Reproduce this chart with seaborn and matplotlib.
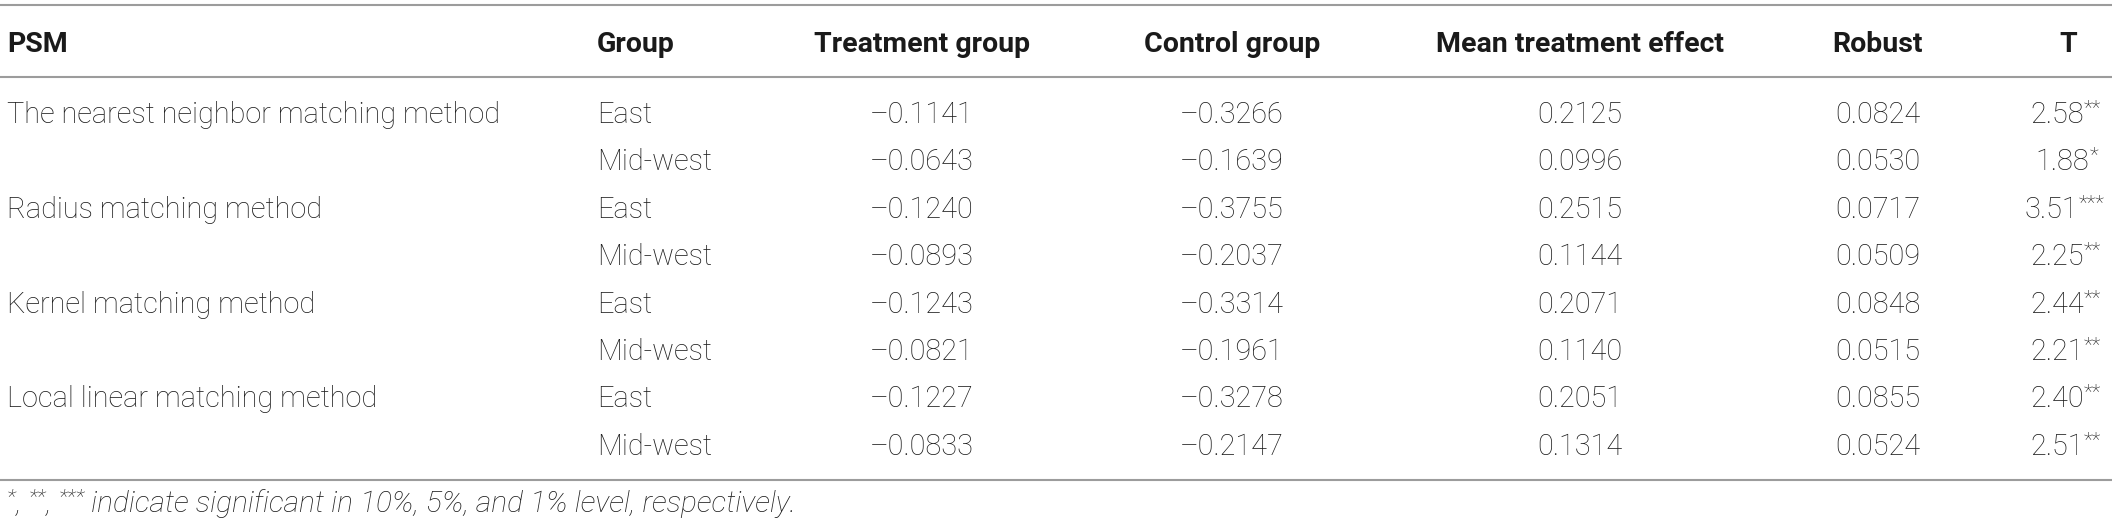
import pandas as pd
import seaborn as sns
import matplotlib.pyplot as plt

# table values
methods = ["The nearest neighbor matching method", "Radius matching method",
           "Kernel matching method", "Local linear matching method"]
groups = ["East", "Mid-west"]
treatment = [-0.1141, -0.0643, -0.1240, -0.0893, -0.1243, -0.0821, -0.1227, -0.0833]
control = [-0.3266, -0.1639, -0.3755, -0.2037, -0.3314, -0.1961, -0.3278, -0.2147]
mean_effect = [0.2125, 0.0996, 0.2515, 0.1144, 0.2071, 0.1140, 0.2051, 0.1314]
robust = [0.0824, 0.0530, 0.0717, 0.0509, 0.0848, 0.0515, 0.0855, 0.0524]
t_values = [2.58, 1.88, 3.51, 2.25, 2.44, 2.21, 2.40, 2.51]
t_stars = ["**", "*", "***", "**", "**", "**", "**", "**"]
headers = ["PSM", "Group", "Treatment group", "Control group",
           "Mean treatment effect", "Robust", "T"]
note = " indicate significant in 10%, 5%, and 1% level, respectively."

df = pd.DataFrame({
    "PSM": [m if i == 0 else "" for m in methods for i in range(len(groups))],
    "Group": groups * len(methods),
    "Treatment group": treatment,
    "Control group": control,
    "Mean treatment effect": mean_effect,
    "Robust": robust,
    "T": t_values,
})

sns.set_theme(style="white")
plt.rcParams["font.family"] = ["Roboto", "Liberation Sans", "DejaVu Sans"]

W, H = 2118, 528
fig = plt.figure(figsize=(W / 100, H / 100), dpi=100)
ax = fig.add_axes([0, 0, 1, 1])
ax.set_xlim(0, W)
ax.set_ylim(H, 0)
ax.axis("off")

FS = 20.8
HFS = 20.5
NFS = 21.5
SUP = FS * 0.72
TXT = "#1c1c1c"
LINE = "#9c9c9c"

# layout (pixels)
left_x = {"PSM": 7, "Group": 597}
center_x = {"Treatment group": 922, "Control group": 1232,
            "Mean treatment effect": 1580, "Robust": 1878, "T": 2068}
head_base = 52
row0_base = 123
row_step = 47.4
foot_base = 512

for y in [5, 77, 480]:
    ax.plot([0, 2112], [y, y], color=LINE, lw=1.5, solid_capstyle="butt")


def fmt(v):
    return f"{v:.4f}".replace("-", "\u2013")


# header
for col in headers:
    if col in left_x:
        ax.text(left_x[col], head_base, col, ha="left", va="baseline",
                fontsize=HFS, fontweight="bold", color="#1a1a1a")
    else:
        ax.text(center_x[col], head_base, col, ha="center", va="baseline",
                fontsize=HFS, fontweight="bold", color="#1a1a1a")

# body
for i, row in df.iterrows():
    yb = row0_base + i * row_step
    for col in ["PSM", "Group"]:
        ax.text(left_x[col], yb, row[col], ha="left", va="baseline",
                fontsize=FS, fontweight="light", color=TXT)
    for col in ["Treatment group", "Control group", "Mean treatment effect", "Robust"]:
        ax.text(center_x[col], yb, fmt(row[col]), ha="center", va="baseline",
                fontsize=FS, fontweight="light", color=TXT)
    stars = t_stars[i]
    num = ax.text(center_x["T"] - 5.5 * len(stars), yb, f"{row['T']:.2f}",
                  ha="center", va="baseline", fontsize=FS, fontweight="light", color=TXT)
    ax.annotate(stars, xy=(1, yb - 9), xycoords=(num, "data"), ha="left",
                va="baseline", fontsize=SUP, fontweight="light", color=TXT)

# footnote with superscript stars
pieces = [("*", True), (", ", False), ("**", True), (", ", False), ("***", True), (note, False)]
prev = None
for txt, sup in pieces:
    y = foot_base - 9 if sup else foot_base
    size = NFS * 0.72 if sup else NFS
    kw = dict(ha="left", va="baseline", fontsize=size, fontstyle="italic",
              fontweight="light", color=TXT)
    if prev is None:
        prev = ax.text(left_x["PSM"], y, txt, **kw)
    else:
        prev = ax.annotate(txt, xy=(1, y), xycoords=(prev, "data"), **kw)

fig.savefig("out.png", dpi=100)
plt.close(fig)
